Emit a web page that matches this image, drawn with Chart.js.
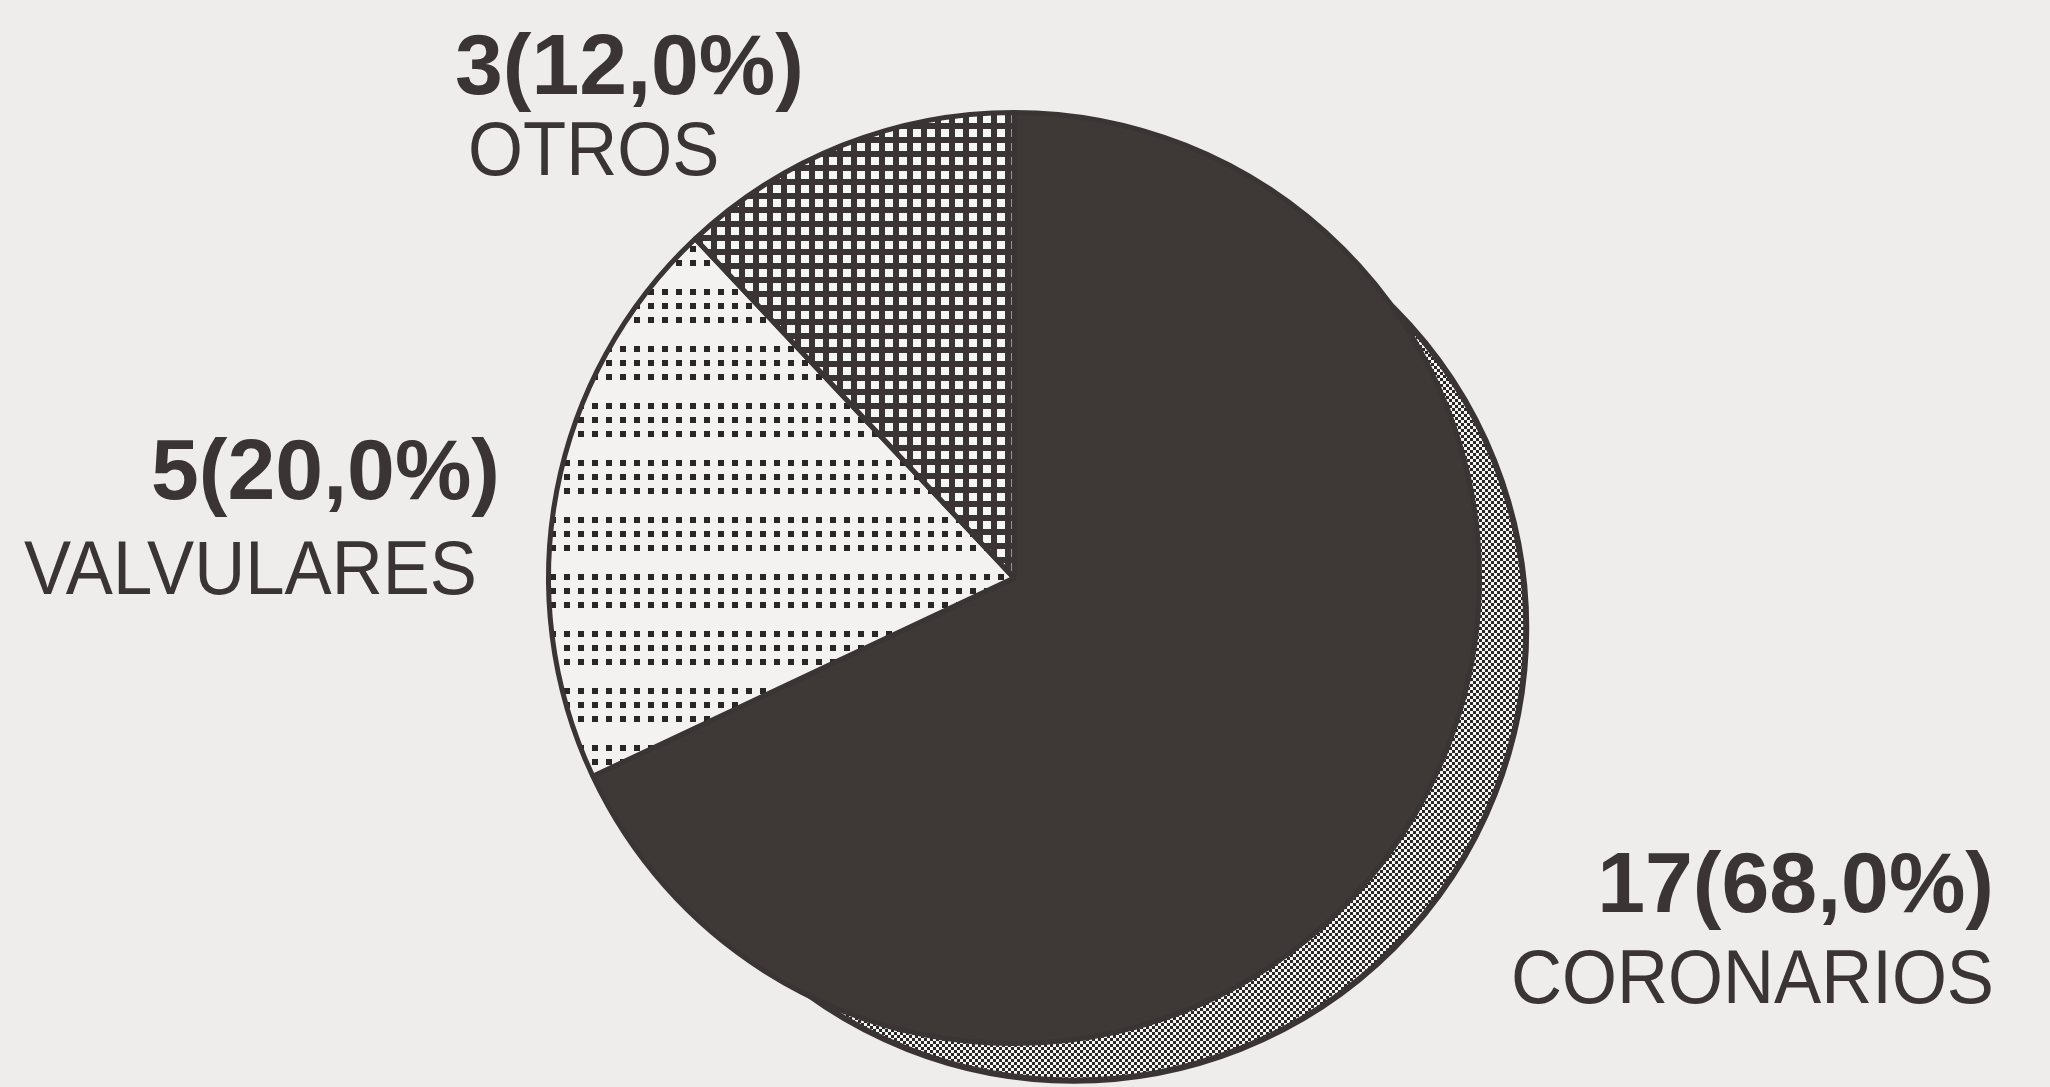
<!DOCTYPE html>
<html>
<head>
<meta charset="utf-8">
<script src="https://cdn.jsdelivr.net/npm/chart.js@4.4.0/dist/chart.umd.min.js"></script>
<style>
  html, body { margin: 0; padding: 0; background: #eeedeb; }
  #wrap { width: 2050px; height: 1087px; }
</style>
</head>
<body>
<div id="wrap"><canvas id="pie-id" width="2050" height="1087"></canvas></div>
<script>
// ===================== DATA =====================
const categories = ['CORONARIOS', 'VALVULARES', 'OTROS'];
const patients = [17, 5, 3];

// label placement (layout only)
const labelSpots = [
  { countX: 1994, countY: 912, nameX: 1994, nameY: 1003, align: 'right' },
  { countX: 500, countY: 499, nameX: 477, nameY: 594, align: 'right' },
  { countX: 455, countY: 94, nameX: 468, nameY: 175, align: 'left' }
];

const ink = '#3a3534';
const paper = '#f3f2f0';

// ===================== PATTERNS =====================
function makePattern(w, h, paint) {
  const c = document.createElement('canvas');
  c.width = w; c.height = h;
  const g = c.getContext('2d');
  paint(g);
  return g.createPattern(c, 'repeat');
}

// valvulares: rows of dots, three rows then a gap
const dotRows = makePattern(14, 57, g => {
  g.fillStyle = paper; g.fillRect(0, 0, 14, 57);
  g.fillStyle = '#2a2626';
  [0, 14, 28].forEach(y => g.fillRect(4, y + 4, 6, 6));
});

// otros: dark grid with white squares
const whiteGrid = makePattern(14, 14, g => {
  g.fillStyle = ink; g.fillRect(0, 0, 14, 14);
  g.fillStyle = '#f6f6f4';
  g.fillRect(3, 3, 8, 8);
});

// rim shadow: fine checker
const checker = makePattern(6, 6, g => {
  g.fillStyle = '#f6f6f4'; g.fillRect(0, 0, 6, 6);
  g.fillStyle = '#2c2828';
  g.fillRect(0, 0, 3, 3);
  g.fillRect(3, 3, 3, 3);
});

// shadow behind the pie
const rimShadow = {
  id: 'rimShadow',
  beforeDatasetsDraw(chart) {
    const arc = chart.getDatasetMeta(0).data[0];
    if (!arc) return;
    const { x, y, outerRadius } = arc.getProps(['x', 'y', 'outerRadius'], true);
    const ang = 40 * Math.PI / 180, d = 78;
    const ctx = chart.ctx;
    ctx.save();
    ctx.beginPath();
    ctx.arc(x + d * Math.cos(ang), y + d * Math.sin(ang), outerRadius - 13, 0, Math.PI * 2);
    ctx.fillStyle = checker;
    ctx.fill();
    ctx.lineWidth = 6;
    ctx.strokeStyle = ink;
    ctx.stroke();
    ctx.restore();
  }
};

// count + percent labels and names
const sliceLabels = {
  id: 'sliceLabels',
  afterDraw(chart) {
    const ctx = chart.ctx;
    const total = patients.reduce((a, b) => a + b, 0);
    ctx.save();
    ctx.fillStyle = ink;
    ctx.textBaseline = 'alphabetic';
    categories.forEach((name, i) => {
      const spot = labelSpots[i];
      const pct = (patients[i] / total * 100).toFixed(1).replace('.', ',');
      const head = patients[i] + '(' + pct + '%)';

      ctx.font = 'bold 86px "Liberation Sans", Arial, sans-serif';
      ctx.textAlign = spot.align;
      ctx.fillText(head, spot.countX, spot.countY);

      // names are set a bit condensed
      ctx.save();
      ctx.font = '76px "Liberation Sans", Arial, sans-serif';
      ctx.translate(spot.nameX, spot.nameY);
      ctx.scale(0.93, 1);
      ctx.textAlign = spot.align;
      ctx.fillText(name, 0, 0);
      ctx.restore();
    });
    ctx.restore();
  }
};

const pieCtx = document.getElementById('pie-id');
if (pieCtx) {
  new Chart(pieCtx, {
    type: 'pie',
    data: {
      labels: categories,
      datasets: [{
        data: patients,
        backgroundColor: ['#3e3937', dotRows, whiteGrid],
        borderColor: ink,
        borderWidth: 5,
        hoverOffset: 0,
        offset: 0
      }]
    },
    options: {
      responsive: false,
      animation: false,
      layout: { padding: { left: 545, right: 567, top: 110, bottom: 41 } },
      plugins: {
        legend: { display: false },
        tooltip: { enabled: false }
      }
    },
    plugins: [rimShadow, sliceLabels]
  });
}
</script>
</body>
</html>
